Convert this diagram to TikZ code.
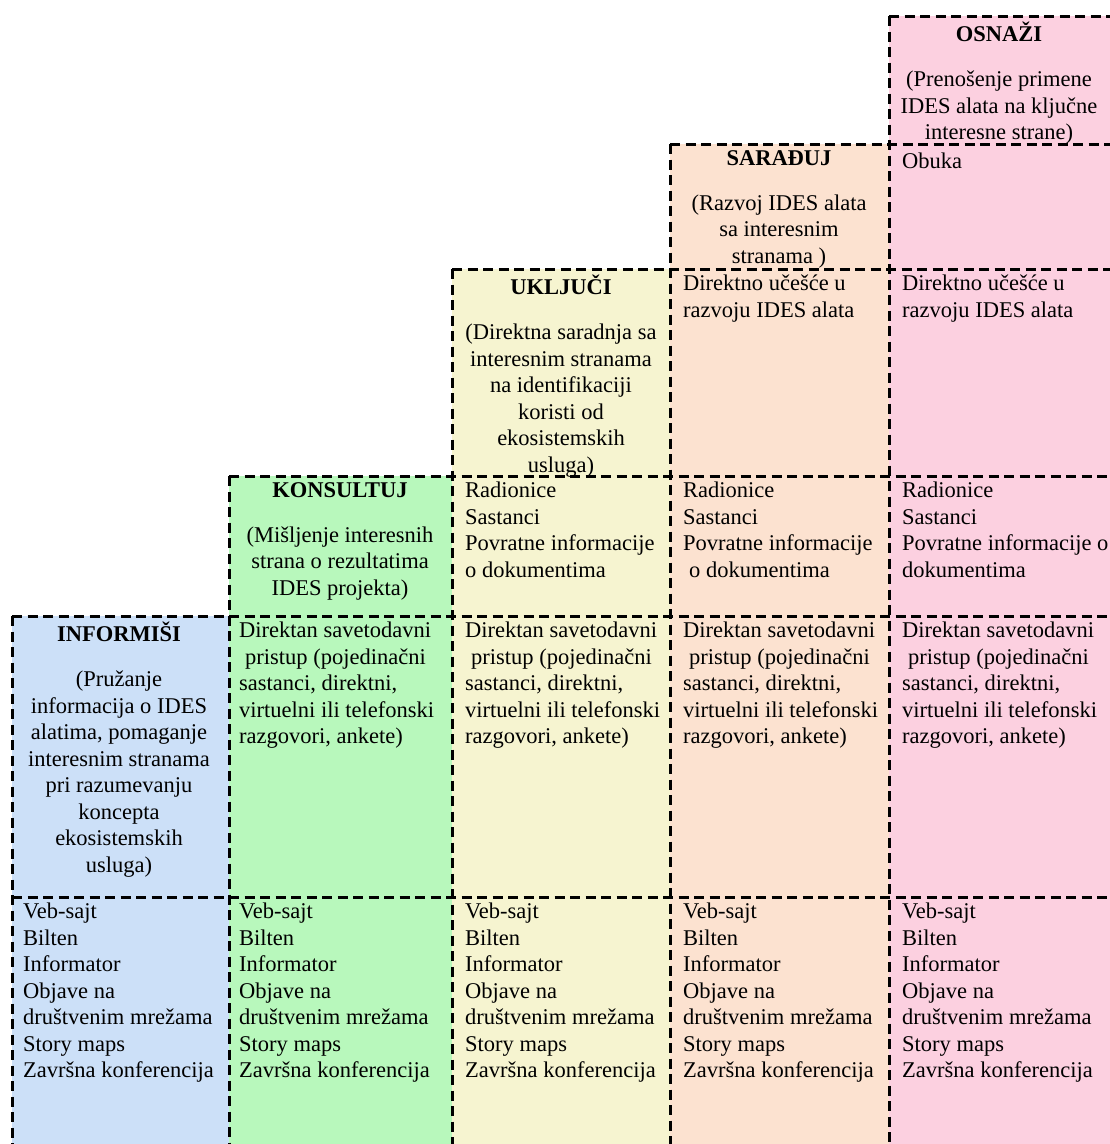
\documentclass[tikz,border=0pt]{standalone}
\usepackage{fontspec}
\setmainfont{Liberation Serif}
\usepackage{tikz}
\usepackage{xcolor}
\usetikzlibrary{calc}

\definecolor{infoblue}{RGB}{204,224,248}
\definecolor{konsgreen}{RGB}{184,248,188}
\definecolor{uklyellow}{RGB}{246,244,208}
\definecolor{saraorange}{RGB}{252,226,208}
\definecolor{osnpink}{RGB}{252,208,224}

\newcommand{\kanali}{Veb-sajt\\Bilten\\Informator\\Objave na\\društvenim mrežama\\Story maps\\Završna konferencija}
\newcommand{\savetodavni}{Direktan savetodavni\\\hspace*{6pt}pristup (pojedinačni\\sastanci, direktni,\\virtuelni ili telefonski\\razgovori, ankete)}

\begin{document}
\begin{tikzpicture}[x=1pt, y=-1pt,
    grid/.style={line width=3pt, dash pattern=on 10pt off 5.5pt},
    txt/.style={inner sep=0pt, font=\fontsize{22.5}{26.5}\selectfont, execute at begin node=\strut},
    cell/.style={txt, anchor=north west, align=left},
    head/.style={txt, anchor=north, align=center}]
            \useasboundingbox (0,0) rectangle (1110,1144);
            % coordinates
            \coordinate (inf) at (12,616);
            \coordinate (kon) at (229,476);
            \coordinate (ukl) at (452,269);
            \coordinate (sar) at (670,144);
            \coordinate (osn) at (889,16);
            % column fills
            \fill[infoblue] (inf) rectangle (229,1144);
            \fill[konsgreen] (kon) rectangle (452,1144);
            \fill[uklyellow] (ukl) rectangle (670,1144);
            \fill[saraorange] (sar) rectangle (889,1144);
            \fill[osnpink] (osn) rectangle (1110,1144);
            % horizontal lines
            \draw[grid] (osn) -- (1110,16);
            \draw[grid] (sar) -- (1110,144);
            \draw[grid] (ukl) -- (1110,269);
            \draw[grid] (kon) -- (1110,476);
            \draw[grid] (inf) -- (1110,616);
            \draw[grid] (12,897) -- (1110,897);
            % vertical lines
            \draw[grid] (inf) -- (12,1144);
            \draw[grid] (kon) -- (229,1144);
            \draw[grid] (ukl) -- (452,1144);
            \draw[grid] (sar) -- (670,1144);
            \draw[grid] (osn) -- (889,1144);
            % headers
            \node[head] (infHead) at ($(inf)+(107,6)$) {\textbf{INFORMIŠI}\\[18.5pt](Pružanje\\informacija o IDES\\alatima, pomaganje\\interesnim stranama\\pri razumevanju\\koncepta\\ekosistemskih\\usluga)};
            \node[head] (konHead) at ($(kon)+(111,6)$) {\textbf{KONSULTUJ}\\[18.5pt](Mišljenje interesnih\\strana o rezultatima\\IDES projekta)};
            \node[head] (uklHead) at ($(ukl)+(109,6)$) {\textbf{UKLJUČI}\\[18.5pt](Direktna saradnja sa\\interesnim stranama\\na identifikaciji\\koristi od\\ekosistemskih\\usluga)};
            \node[head] (sarHead) at ($(sar)+(109,6)$) {\textbf{SARAĐUJ}\\[18.5pt](Razvoj IDES alata\\sa interesnim\\stranama )};
            \node[head] (osnHead) at ($(osn)+(110,6)$) {\textbf{OSNAŽI}\\[18.5pt](Prenošenje primene\\IDES alata na ključne\\interesne strane)};
            % osnazi cells
            \node[cell] (osnObuka) at (902,150) {Obuka};
            \node[cell] (osnUcesce) at (902,275) {Direktno učešće u\\razvoju IDES alata};
            \node[cell] (osnRad) at (902,482) {Radionice\\Sastanci\\Povratne informacije o\\dokumentima};
            \node[cell] (osnDir) at (902,622) {\savetodavni};
            \node[cell] (osnKan) at (902,903) {\kanali};
            % saradjuj cells
            \node[cell] (sarUcesce) at (683,275) {Direktno učešće u\\razvoju IDES alata};
            \node[cell] (sarRad) at (683,482) {Radionice\\Sastanci\\Povratne informacije\\\hspace*{6pt}o dokumentima};
            \node[cell] (sarDir) at (683,622) {\savetodavni};
            \node[cell] (sarKan) at (683,903) {\kanali};
            % ukljuci cells
            \node[cell] (uklRad) at (465,482) {Radionice\\Sastanci\\Povratne informacije\\o dokumentima};
            \node[cell] (uklDir) at (465,622) {\savetodavni};
            \node[cell] (uklKan) at (465,903) {\kanali};
            % konsultuj cells
            \node[cell] (konDir) at (239,622) {\savetodavni};
            \node[cell] (konKan) at (239,903) {\kanali};
            % informisi cells
            \node[cell] (infKan) at (23,903) {\kanali};
        \end{tikzpicture}
\end{document}
